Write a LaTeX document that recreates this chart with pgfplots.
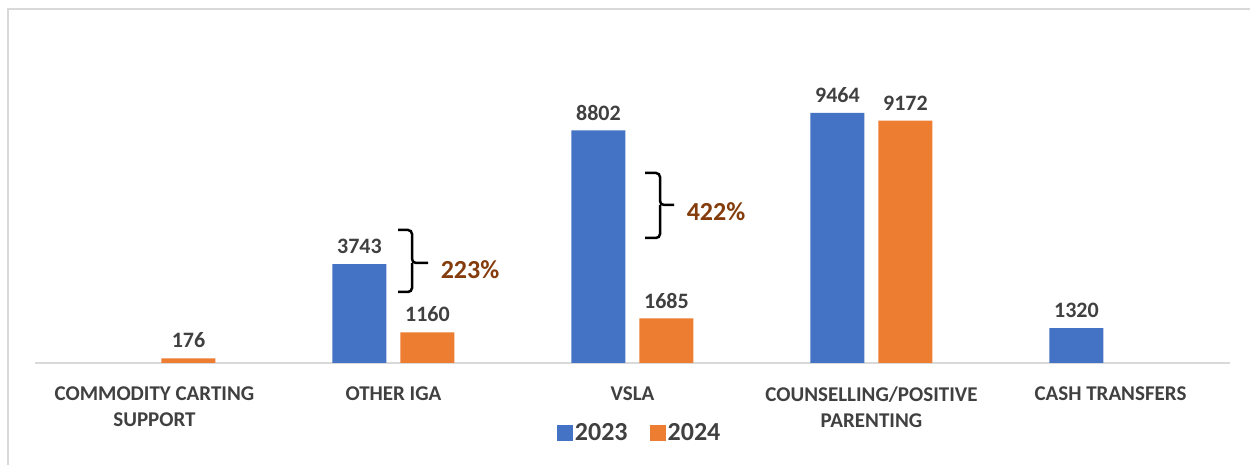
\documentclass[border=0pt]{standalone}
\usepackage{fontspec}
\setmainfont{Carlito}
\usepackage{pgfplots}
\pgfplotsset{compat=1.18}
\definecolor{cblue}{HTML}{4472C4}
\definecolor{corange}{HTML}{ED7D31}
\definecolor{ctext}{HTML}{404040}
\definecolor{cbrown}{HTML}{843C0C}
\definecolor{cframe}{HTML}{D9D9D9}
\begin{document}
\begin{tikzpicture}[x=1bp,y=1bp]
\path[use as bounding box] (0,0) rectangle (1250,465);
\fill[white] (0,0) rectangle (1250,465);
\draw[cframe, line width=1.5bp] (8,0) -- (8,456) -- (1250,456);
\begin{axis}[
  at={(35bp,102bp)}, anchor=south west,
  scale only axis, width=1195bp, height=333bp,
  xmin=-0.5, xmax=4.5, ymin=0, ymax=12606,
  ybar=14bp, bar width=54bp,
  axis y line=none,
  axis x line*=bottom,
  x axis line style={cframe, line width=1.5bp, -},
  xtick={0,1,2,3,4},
  xticklabels={{COMMODITY CARTING\\SUPPORT},{OTHER IGA},{VSLA},{COUNSELLING/POSITIVE\\PARENTING},{CASH TRANSFERS}},
  major tick length=0pt,
  xticklabel style={font=\fontsize{21bp}{26bp}\selectfont\bfseries, text=ctext, align=center, anchor=north, inner sep=0pt, yshift=-24bp},
  /pgf/number format/.cd, 1000 sep={}, assume math mode=true, /pgfplots/.cd,
  nodes near coords={\pgfmathprintnumber{\pgfplotspointmeta}},
  every node near coord/.append style={font=\fontsize{22bp}{26bp}\selectfont\bfseries, text=ctext, anchor=south, inner sep=0pt, yshift=10bp},
  legend style={at={(0.506,-0.21)}, anchor=center, draw=none, legend columns=2, font=\fontsize{26bp}{30bp}\selectfont\bfseries, text=ctext,
    /tikz/every even column/.append style={column sep=20bp}},
  legend image code/.code={\fill[#1] (0bp,-8bp) rectangle (16bp,8bp);},
]
\addplot[fill=cblue, draw=none] coordinates {(1,3743) (2,8802) (3,9464) (4,1320)};
\addplot[fill=corange, draw=none] coordinates {(0,176) (1,1160) (2,1685) (3,9172)};
\legend{2023,2024}
\end{axis}
\draw[black, line width=2.5bp, rounded corners=4bp] (398,235) -- (412,235) -- (412,202) -- (428,202);
\draw[black, line width=2.5bp, rounded corners=4bp] (412,202) -- (412,173) -- (398,173);
\node[text=cbrown, font=\fontsize{26bp}{30bp}\selectfont\bfseries] at (470,195) {223\%};
\draw[black, line width=2.5bp, rounded corners=4bp] (645,292) -- (660,292) -- (660,260) -- (674,260);
\draw[black, line width=2.5bp, rounded corners=4bp] (660,260) -- (660,227) -- (645,227);
\node[text=cbrown, font=\fontsize{26bp}{30bp}\selectfont\bfseries] at (716,253) {422\%};
\end{tikzpicture}
\end{document}
